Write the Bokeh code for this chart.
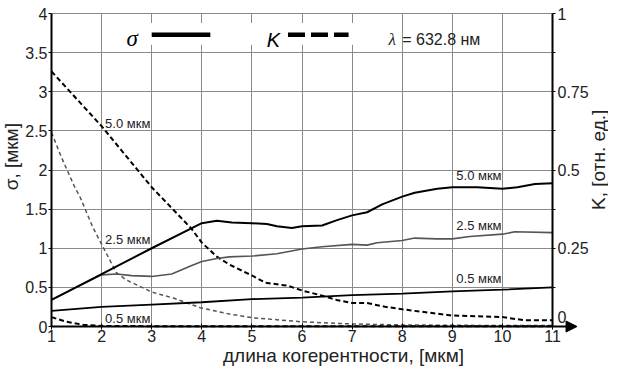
import math
from bokeh.plotting import figure
from bokeh.models import (Range1d, LinearAxis, FixedTicker, Label, BoxAnnotation,
                          Arrow, NormalHead, NumeralTickFormatter)
from bokeh.embed import file_html
from bokeh.resources import INLINE

# ---------------- data ----------------
# sigma curves (left axis, [мкм]) vs coherence length [мкм]
x_sig50 = [1, 2, 3, 4, 4.3, 4.6, 5, 5.3, 5.5, 5.8, 6, 6.4, 6.7, 7, 7.3, 7.6, 8, 8.25, 8.7, 9, 9.5, 10, 10.3, 10.65, 11]
y_sig50 = [0.34, 0.67, 1.0, 1.32, 1.35, 1.33, 1.32, 1.31, 1.28, 1.26, 1.28, 1.29, 1.36, 1.42, 1.46, 1.56, 1.66, 1.71, 1.76, 1.78, 1.78, 1.76, 1.78, 1.82, 1.83]

x_sig25 = [1, 2, 2.3, 2.6, 3, 3.4, 3.8, 4, 4.3, 4.55, 5, 5.5, 6, 6.4, 7, 7.3, 7.5, 8, 8.25, 8.7, 9, 9.35, 10, 10.25, 11]
y_sig25 = [0.34, 0.66, 0.67, 0.65, 0.64, 0.67, 0.78, 0.83, 0.87, 0.89, 0.9, 0.93, 0.99, 1.02, 1.05, 1.04, 1.07, 1.1, 1.13, 1.12, 1.12, 1.15, 1.18, 1.21, 1.2]

x_sig05 = [1, 2, 3, 4, 5, 6, 7, 8, 9, 10, 11]
y_sig05 = [0.2, 0.25, 0.28, 0.31, 0.35, 0.37, 0.4, 0.42, 0.45, 0.47, 0.5]

# K curves (right axis, [отн. ед.])
x_k50 = [1, 2, 3, 3.78, 4, 4.3, 4.55, 5, 5.27, 5.72, 6, 6.37, 6.69, 7, 7.3, 7.66, 8, 8.24, 9, 10, 10.44, 11]
y_k50 = [0.815, 0.64, 0.445, 0.315, 0.268, 0.223, 0.198, 0.163, 0.14, 0.13, 0.115, 0.1, 0.085, 0.075, 0.075, 0.063, 0.055, 0.05, 0.035, 0.03, 0.02, 0.02]

x_k25 = [1, 1.2, 1.45, 1.58, 1.83, 2.0, 2.29, 2.48, 3.0, 3.45, 3.97, 4.55, 5, 6, 7, 8, 9, 10, 11]
y_k25 = [0.62, 0.54, 0.45, 0.41, 0.315, 0.263, 0.173, 0.15, 0.11, 0.09, 0.06, 0.04, 0.028, 0.015, 0.008, 0.005, 0.004, 0.003, 0.003]

x_k05 = [1, 1.3, 1.65, 2, 3, 4, 5, 6, 7, 8, 9, 10, 11]
y_k05 = [0.03, 0.015, 0.005, 0.002, 0.001, 0.001, 0.001, 0.001, 0.001, 0.001, 0.001, 0.001, 0.001]

x_ticks = [1, 2, 3, 4, 5, 6, 7, 8, 9, 10, 11]
y_ticks = [0, 0.5, 1, 1.5, 2, 2.5, 3, 3.5, 4]
k_ticks = [0, 0.25, 0.5, 0.75, 1]
k_minor = [0.125, 0.375, 0.625, 0.875]

x_title = "длина когерентности, [мкм]"
y_title = "σ, [мкм]"
k_title = "K, [отн. ед.]"
wavelength = "= 632.8 нм"
curve_names = ["5.0 мкм", "2.5 мкм", "0.5 мкм"]

# ---------------- layout (pixels inside the figure) ----------------
W, H = 608, 371
PX_X1, PX_X11 = 51, 552     # where x = 1 and x = 11 sit
PX_Y4, PX_Y0 = 13, 326      # where sigma = 4 and sigma = 0 sit
X0, X1 = 1, 11
Y0, Y1 = 0, 4
sx = (PX_X11 - PX_X1) / (X1 - X0)
sy = (PX_Y0 - PX_Y4) / (Y1 - Y0)
xr = Range1d(X0 - PX_X1 / sx, X1 + (W - PX_X11) / sx)
yr = Range1d(Y0 - (H - PX_Y0) / sy, Y1 + PX_Y4 / sy)
kr = Range1d(yr.start / 4, yr.end / 4)

def px_x(px):   # figure pixel column -> x value
    return xr.start + px / sx

def px_y(py):   # figure pixel row (from top) -> sigma value
    return yr.end - py / sy

FONT = "Liberation Sans"
GRID = "#8a8a8a"
GRAY = "#555555"
INK = "#222222"

p = figure(width=W, height=H, output_backend="svg", toolbar_location=None,
           x_range=xr, y_range=yr,
           min_border_left=0, min_border_right=0, min_border_top=0, min_border_bottom=0)
p.extra_y_ranges = {"K": kr}
p.outline_line_color = None
p.background_fill_color = "white"
p.border_fill_color = "white"

# axes (all pinned inside the frame)
xa = p.xaxis[0]
xa.ticker = FixedTicker(ticks=x_ticks)
xa.bounds = (X0, X1)
xa.fixed_location = Y0
ya = p.yaxis[0]
ya.ticker = FixedTicker(ticks=y_ticks)
ya.formatter = NumeralTickFormatter(format="0.[00]")
ya.bounds = (Y0, Y1)
ya.fixed_location = X0

ka = LinearAxis(y_range_name="K", ticker=FixedTicker(ticks=k_ticks, minor_ticks=k_minor),
                formatter=NumeralTickFormatter(format="0.[00]"), fixed_location=X1,
                bounds=(0, 1))
ka.major_label_overrides = {0: ""}
p.add_layout(ka, "right")

for ax in (xa, ya, ka):
    ax.axis_line_color = "black"
    ax.axis_line_width = 2
    ax.major_tick_line_color = "black"
    ax.major_tick_line_width = 1
    ax.major_label_text_font = FONT
    ax.major_label_text_font_size = "16px"
    ax.major_label_text_color = INK
xa.major_tick_in = 3
xa.major_tick_out = 3
xa.major_label_standoff = 0
xa.minor_tick_line_color = None
ya.major_tick_in = 0
ya.major_tick_out = 3
ya.major_label_standoff = 1
ya.minor_tick_line_color = None
ka.major_tick_in = 0
ka.major_tick_out = 3
ka.minor_tick_in = 0
ka.minor_tick_out = 3
ka.minor_tick_line_color = "black"
ka.major_label_standoff = 2

p.xgrid.ticker = FixedTicker(ticks=x_ticks)
p.ygrid.ticker = FixedTicker(ticks=y_ticks)
for g in (p.xgrid[0], p.ygrid[0]):
    g.grid_line_color = GRID
    g.grid_line_width = 1
p.xgrid[0].cross_bounds = (Y0, Y1)
p.ygrid[0].cross_bounds = (X0, X1)

# curves
p.line(x_k25, y_k25, y_range_name="K", line_color=GRAY, line_width=1.5, line_dash="4 3")
p.line(x_k50, y_k50, y_range_name="K", line_color="black", line_width=2, line_dash="5 3")
p.line(x_k05, y_k05, y_range_name="K", line_color="black", line_width=2, line_dash="5 3")
p.line(x_sig25, y_sig25, line_color=GRAY, line_width=1.6)
p.line(x_sig05, y_sig05, line_color="black", line_width=1.8)
p.line(x_sig50, y_sig50, line_color="black", line_width=2)

# legend (white panel, key lines, symbols)
p.add_layout(BoxAnnotation(left=2.8, right=7.15, bottom=3.6, top=3.88,
                           fill_color="white", fill_alpha=1, line_color=None))
p.add_layout(Arrow(x_start=3.0, y_start=3.73, x_end=4.17, y_end=3.73, start=None, end=None,
                   line_color="black", line_width=4.5))
p.add_layout(Arrow(x_start=5.72, y_start=3.73, x_end=6.93, y_end=3.73, start=None, end=None,
                   line_color="black", line_width=4.5, line_dash="17 6"))

def lab(text, x, y, **kw):
    d = dict(text_font=FONT, text_font_size="13px", text_color=INK)
    d.update(kw)
    p.add_layout(Label(x=x, y=y, text=text, **d))

lab("σ", 2.61, 3.68, text_font="Liberation Serif", text_font_style="italic",
    text_font_size="23px", text_align="center", text_baseline="alphabetic", text_color="black")
lab("K", 5.43, 3.66, text_font_style="italic", text_font_size="20px",
    text_align="center", text_baseline="alphabetic", text_color="black")
lab("λ", 7.8, 3.67, text_font="Liberation Serif", text_font_style="italic", text_font_size="17px",
    text_align="center", text_baseline="alphabetic")
lab(wavelength, 8.0, 3.67, text_font_size="16px", text_align="left", text_baseline="alphabetic")

# curve labels
lab(curve_names[0], 2.07, 2.6, text_baseline="middle")
lab(curve_names[1], 2.07, 1.11, text_baseline="middle")
lab(curve_names[2], 2.07, 0.1, text_baseline="middle")
lab(curve_names[0], 9.08, 1.93, text_baseline="middle")
lab(curve_names[1], 9.08, 1.29, text_baseline="middle")
lab(curve_names[2], 9.08, 0.61, text_baseline="middle")

# right-axis zero label, lifted above the x-axis arrow
lab("0", X1, Y0, x_offset=5, y_offset=10, text_font_size="16px", text_baseline="middle")

# axis titles
lab(x_title, px_x(343), px_y(355), text_font_size="19px", text_align="center",
    text_baseline="middle")
lab(y_title, px_x(11), 2.17, angle=math.pi / 2, text_font_size="19px",
    text_align="center", text_baseline="middle")
lab(k_title, px_x(598), 2.13, angle=math.pi / 2, text_font_size="19px",
    text_align="center", text_baseline="middle")

# x-axis arrow
p.add_layout(Arrow(x_start=X1, y_start=Y0, x_end=11.49, y_end=Y0, start=None,
                   line_color="black", line_width=2,
                   end=NormalHead(size=11, fill_color="black", line_color="black", line_width=1)))

open("out.html", "w").write(file_html(p, INLINE))
